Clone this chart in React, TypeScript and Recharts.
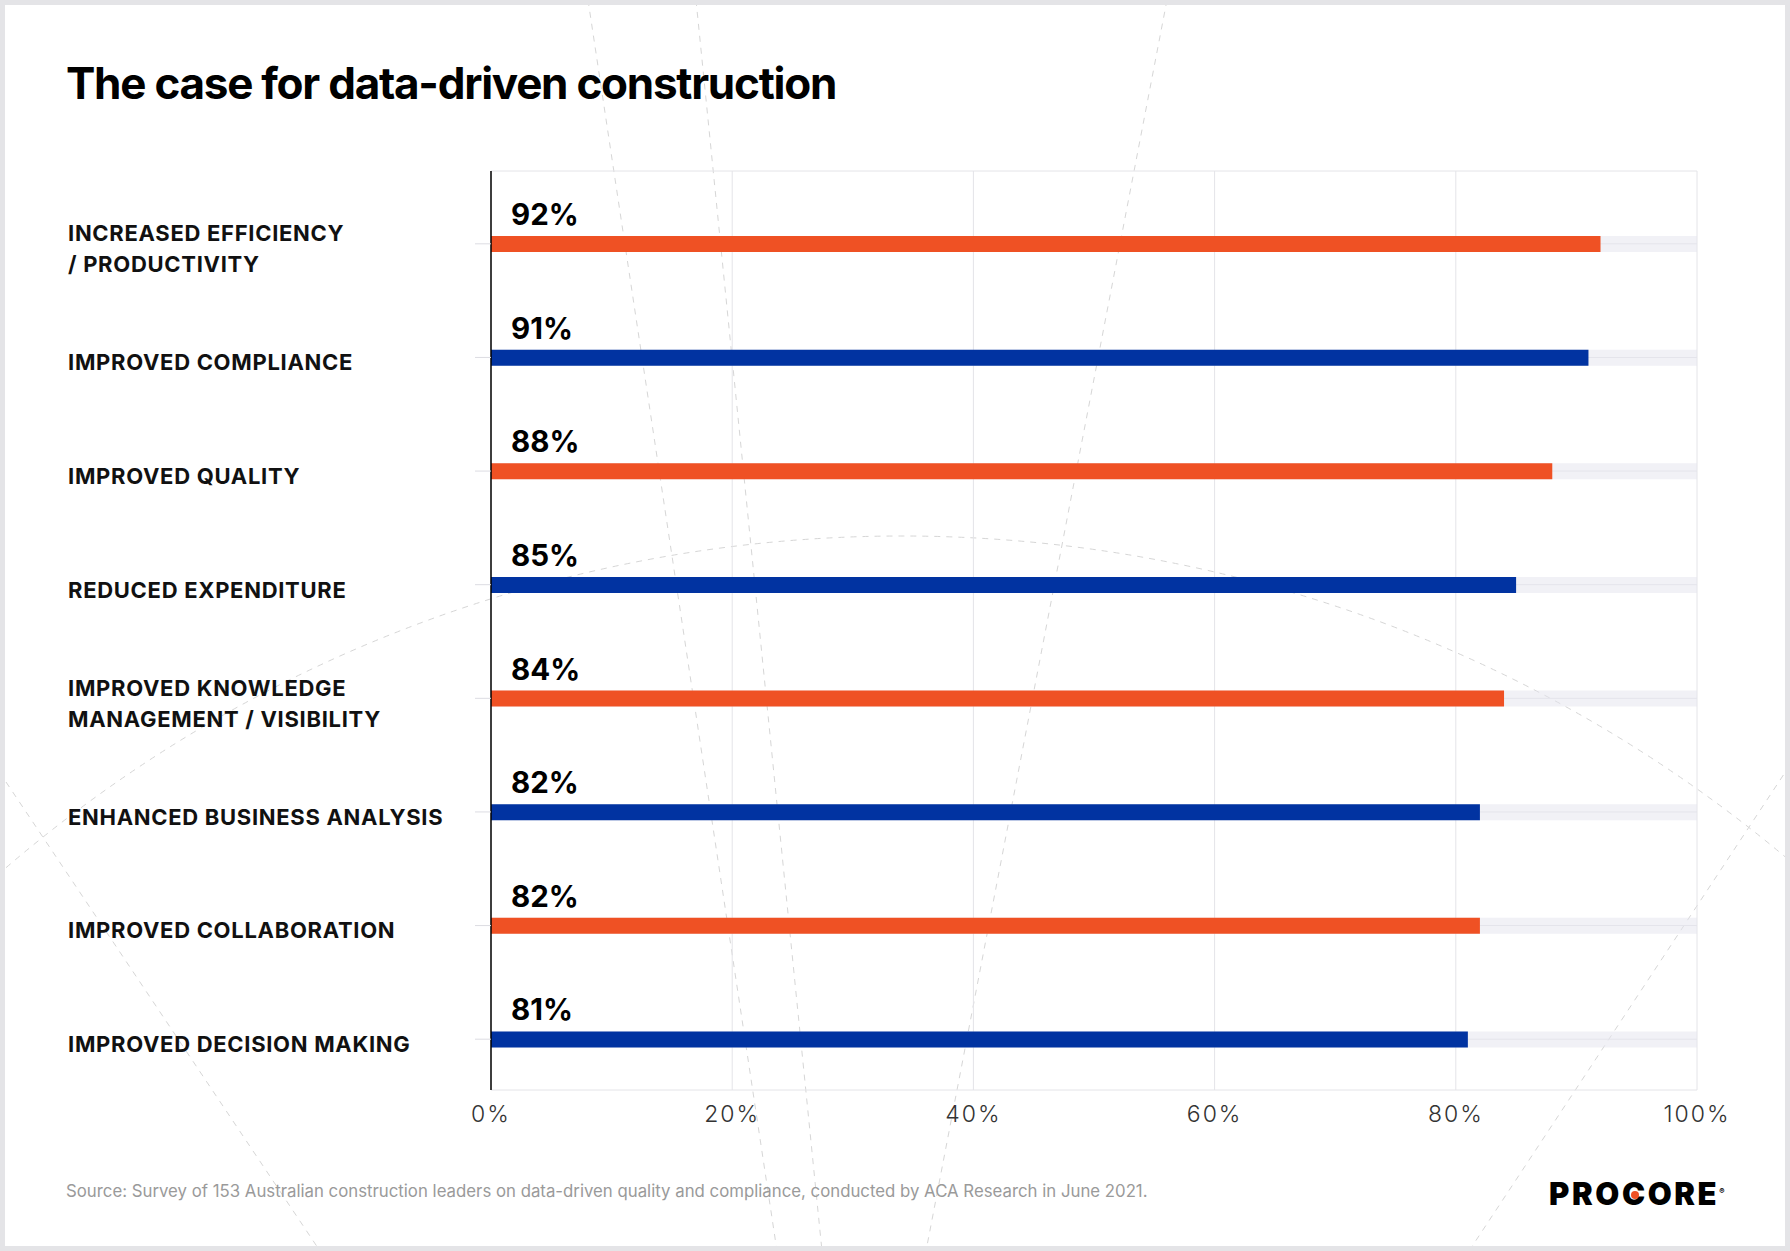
import { BarChart, Bar, XAxis, YAxis, CartesianGrid, Cell, LabelList } from 'recharts'

const categories = [
  'INCREASED EFFICIENCY\n/ PRODUCTIVITY',
  'IMPROVED COMPLIANCE',
  'IMPROVED QUALITY',
  'REDUCED EXPENDITURE',
  'IMPROVED KNOWLEDGE\nMANAGEMENT / VISIBILITY',
  'ENHANCED BUSINESS ANALYSIS',
  'IMPROVED COLLABORATION',
  'IMPROVED DECISION MAKING',
]
const values = [92, 91, 88, 85, 84, 82, 82, 81]
const xTicks = [0, 20, 40, 60, 80, 100]
const barColors = ['#EF5124', '#0133A1']

const FONT = 'Inter, "Noto Sans", sans-serif'

const data = categories.map((name, i) => ({ name, value: values[i] }))

function CategoryTick(props: any) {
  const { y, payload } = props
  const lines: string[] = String(payload.value).split('\n')
  const lh = 31
  const top = y + 5 - ((lines.length - 1) * lh) / 2
  return (
    <text fontFamily={FONT} fontSize={22} fontWeight={700} letterSpacing={0.7} fill="#111">
      {lines.map((l, i) => (
        <tspan key={i} x={67} y={top + i * lh} dy="0.36em">
          {l}
        </tspan>
      ))}
    </text>
  )
}

function ValueLabel(props: any) {
  const { x, y, value } = props
  return (
    <text x={x + 20} y={y - 11} fontFamily={FONT} fontSize={29.5} fontWeight={700} fill="#000">
      {value}%
    </text>
  )
}

// faint dashed backdrop lines
function Backdrop() {
  const s = { stroke: '#d6d6d6', strokeWidth: 1, strokeDasharray: '6 6', fill: 'none' }
  return (
    <svg width={1780} height={1241} style={{ position: 'absolute', left: 0, top: 0 }}>
      <circle cx={897} cy={1907} r={1376} {...s} />
      <line x1={583} y1={-5} x2={772} y2={1246} {...s} />
      <line x1={691} y1={-5} x2={817} y2={1246} {...s} />
      <line x1={1162} y1={-5} x2={921} y2={1246} {...s} />
      <line x1={1} y1={777} x2={315} y2={1246} {...s} />
      <line x1={1785} y1={760} x2={1464} y2={1246} {...s} />
    </svg>
  )
}

export default function App() {
  return (
    <div
      style={{
        position: 'absolute',
        left: 0,
        top: 0,
        width: 1790,
        height: 1251,
        background: '#e4e4e7',
      }}
    >
      <div
        style={{
          position: 'absolute',
          left: 5,
          top: 5,
          width: 1780,
          height: 1241,
          background: '#fff',
          overflow: 'hidden',
        }}
      >
        <Backdrop />
        <div
          style={{
            position: 'absolute',
            left: 61,
            top: 51,
            fontFamily: FONT,
            fontSize: 44,
            fontWeight: 700,
            letterSpacing: -1.25,
            color: '#000',
            whiteSpace: 'nowrap',
          }}
        >
          The case for data-driven construction
        </div>
        <div style={{ position: 'absolute', left: -4, top: -5 }}>
          <BarChart
            width={1790}
            height={1251}
            data={data}
            layout="vertical"
            margin={{ top: 171, right: 94, bottom: 131, left: 0 }}
          >
            <CartesianGrid stroke="#e4e4e8" />
            <XAxis
              type="number"
              domain={[0, 100]}
              ticks={xTicks}
              tickFormatter={(v) => `${v}%`}
              axisLine={false}
              tickLine={false}
              tickSize={0}
              tickMargin={16}
              height={30}
              tick={{ fill: '#333', fontSize: 23, fontWeight: 300, fontFamily: FONT, letterSpacing: 2 }}
            />
            <YAxis
              type="category"
              dataKey="name"
              width={490}
              tickSize={16}
              tickLine={{ stroke: '#dcdce2' }}
              axisLine={{ stroke: '#000', strokeWidth: 1.5 }}
              padding={{ top: 16, bottom: -6 }}
              interval={0}
              tick={<CategoryTick />}
            />
            <Bar
              dataKey="value"
              barSize={16}
              isAnimationActive={false}
              background={{ fill: 'rgba(228,228,238,0.5)' }}
            >
              {data.map((_, i) => (
                <Cell key={i} fill={barColors[i % 2]} />
              ))}
              <LabelList dataKey="value" content={<ValueLabel />} />
            </Bar>
          </BarChart>
        </div>
        <div
          style={{
            position: 'absolute',
            left: 61,
            top: 1176,
            fontFamily: FONT,
            fontSize: 16.8,
            color: '#9a9a9a',
            whiteSpace: 'nowrap',
          }}
        >
          Source: Survey of 153 Australian construction leaders on data-driven quality and compliance, conducted by ACA
          Research in June 2021.
        </div>
        <div
          style={{
            position: 'absolute',
            left: 1544,
            top: 1170,
            fontFamily: FONT,
            fontSize: 31,
            fontWeight: 900,
            letterSpacing: 2.6,
            color: '#000',
            whiteSpace: 'nowrap',
          }}
        >
          PRO<span style={{ position: 'relative' }}>C<span style={{ position: 'absolute', left: 9, top: 16, width: 8, height: 8, borderRadius: 4, background: '#EF5124' }} /></span>ORE
          <sup style={{ fontSize: 8 }}>®</sup>
        </div>
      </div>
    </div>
  )
}
